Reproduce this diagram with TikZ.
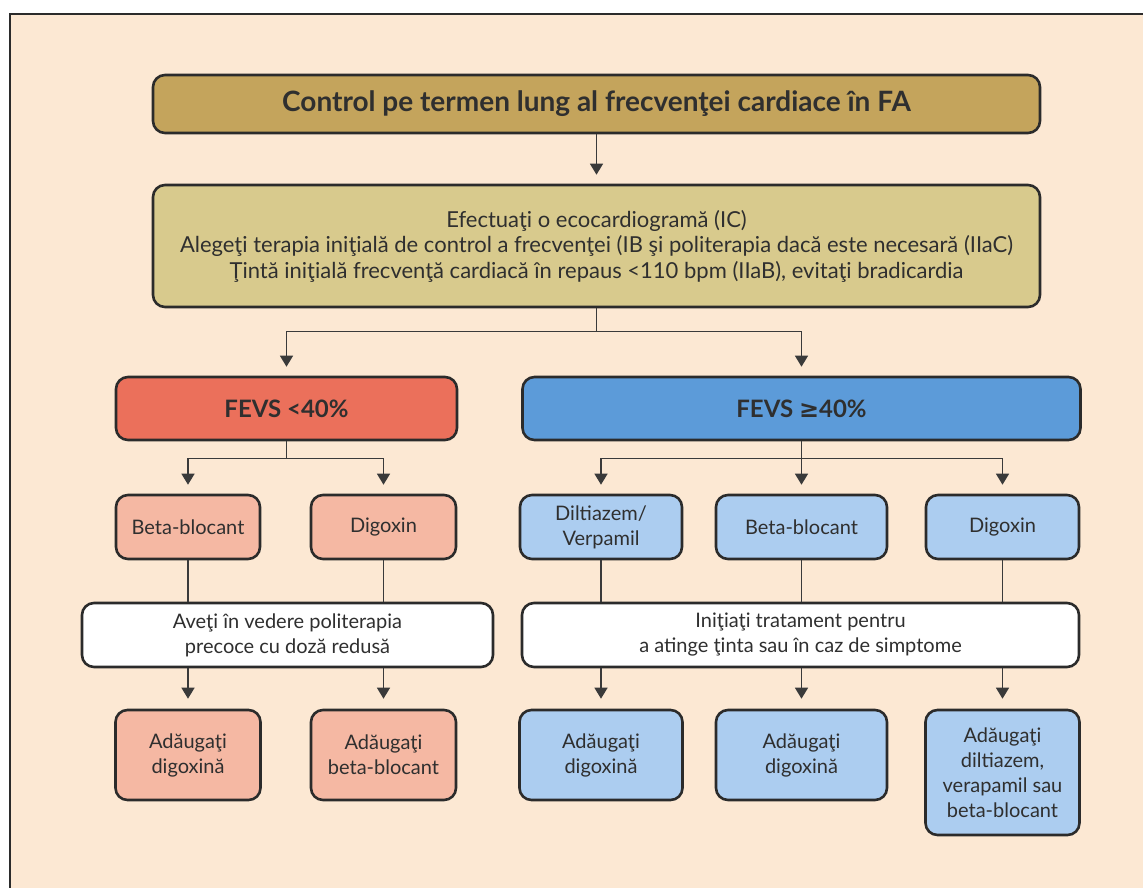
\documentclass[tikz,border=0pt]{standalone}
\usepackage{fontspec}
\setmainfont{Lato}
\newfontfamily\symfont{DejaVu Sans}
\usetikzlibrary{arrows.meta}

\definecolor{page}{HTML}{FCE8D3}
\definecolor{edge}{HTML}{2B2B2B}
\definecolor{wire}{HTML}{3A3A3A}
\definecolor{ink}{HTML}{2F2F2F}
\definecolor{gold}{HTML}{C4A45C}
\definecolor{khaki}{HTML}{D8CA8D}
\definecolor{redbox}{HTML}{EB705B}
\definecolor{bluebox}{HTML}{5C9BD9}
\definecolor{pinkbox}{HTML}{F5B8A3}
\definecolor{skybox}{HTML}{ACCDF0}

\begin{document}
\begin{tikzpicture}[x=1pt,y=-1pt,
  box/.style={draw=edge, line width=2.6pt, rounded corners=12pt, inner sep=0pt,
              align=center, text=ink, font=\fontsize{20}{25}\selectfont},
  head/.style={box, font=\fontsize{24}{28}\selectfont\bfseries},
  link/.style={draw=wire, line width=1.4pt},
  arr/.style={link, -{Triangle[width=13pt,length=11pt]}, shorten >=9pt},
]
% page and frame
\useasboundingbox (0,0) rectangle (1143,888);
\fill[white] (0,0) rectangle (1143,888);
\fill[page] (10,14) rectangle (1143,888);
\draw[edge, line width=1.6pt] (10,888) -- (10,14) -- (1143,14);

% top of the chart
\node[box, fill=gold, minimum width=887pt, minimum height=58pt,
      font=\fontsize{28}{32}\selectfont\bfseries] (title) at (596.5,104)
  {Control pe termen lung al frecvenţei cardiace în FA};
\node[box, fill=khaki, minimum width=887pt, minimum height=122pt,
      font=\fontsize{22}{25.5}\selectfont] (eco) at (596.5,246)
  {Efectuaţi o ecocardiogramă (IC)\\
   Alegeţi terapia iniţială de control a frecvenţei (IB şi politerapia dacă este necesară (IIaC)\\
   Ţintă iniţială frecvenţă cardiacă în repaus <110 bpm (IIaB), evitaţi bradicardia};

% the two LVEF branches
\node[head, fill=redbox, minimum width=341pt, minimum height=63pt] (low) at (286.5,408.5)
  {FEVS <40\%};
\node[head, fill=bluebox, minimum width=558pt, minimum height=63pt] (high) at (801.5,408.5)
  {FEVS {\symfont\bfseries ≥}40\%};

% first-line drugs
\node[box, fill=pinkbox, minimum width=144pt, minimum height=64pt] (bbL) at (188,527) {Beta-blocant};
\node[box, fill=pinkbox, minimum width=145pt, minimum height=64pt] (digL) at (383.5,527) {Digoxin};
\node[box, fill=skybox, minimum width=162pt, minimum height=64pt] (dilR) at (601,527) {Diltiazem/\\Verpamil};
\node[box, fill=skybox, minimum width=171pt, minimum height=64pt] (bbR) at (801.5,527) {Beta-blocant};
\node[box, fill=skybox, minimum width=153pt, minimum height=64pt] (digR) at (1002.5,527) {Digoxin};

% combined-therapy advice
\node[box, fill=white, minimum width=411pt, minimum height=64pt] (advL) at (287.5,635)
  {Aveţi în vedere politerapia\\precoce cu doză redusă};
\node[box, fill=white, minimum width=557pt, minimum height=64pt] (advR) at (800.5,635)
  {Iniţiaţi tratament pentru\\a atinge ţinta sau în caz de simptome};

% add-on drugs
\node[box, fill=pinkbox, minimum width=145pt, minimum height=90pt] (addL1) at (188,755) {Adăugaţi\\digoxină};
\node[box, fill=pinkbox, minimum width=145pt, minimum height=90pt] (addL2) at (383.5,755) {Adăugaţi\\beta-blocant};
\node[box, fill=skybox, minimum width=163pt, minimum height=90pt] (addR1) at (601,755) {Adăugaţi\\digoxină};
\node[box, fill=skybox, minimum width=171pt, minimum height=90pt] (addR2) at (801.5,755) {Adăugaţi\\digoxină};
\node[box, fill=skybox, minimum width=154pt, minimum height=125pt] (addR3) at (1002.5,772.5)
  {Adăugaţi\\diltiazem,\\verapamil sau\\beta-blocant};

% connectors
\draw[arr] (title.south) -- (eco.north);
\draw[link] (eco.south) -- ++(0,23) coordinate (splitA);
\draw[arr] (splitA) -| (low.north);
\draw[arr] (splitA) -| (high.north);

\draw[link] (low.south) -- ++(0,17) coordinate (splitL);
\draw[arr] (splitL) -| (bbL.north);
\draw[arr] (splitL) -| (digL.north);

\draw[link] (high.south) -- ++(0,17) coordinate (splitR);
\draw[arr] (splitR) -| (dilR.north);
\draw[arr] (splitR) -| (bbR.north);
\draw[arr] (splitR) -| (digR.north);

\foreach \a/\b/\c in {bbL/advL/addL1, digL/advL/addL2, dilR/advR/addR1, bbR/advR/addR2, digR/advR/addR3}{
  \draw[link] (\a.south) -- (\a.south |- \b.north);
  \draw[arr, shorten >=10pt] (\a.south |- \b.south) -- (\c.north);
}
\end{tikzpicture}
\end{document}
